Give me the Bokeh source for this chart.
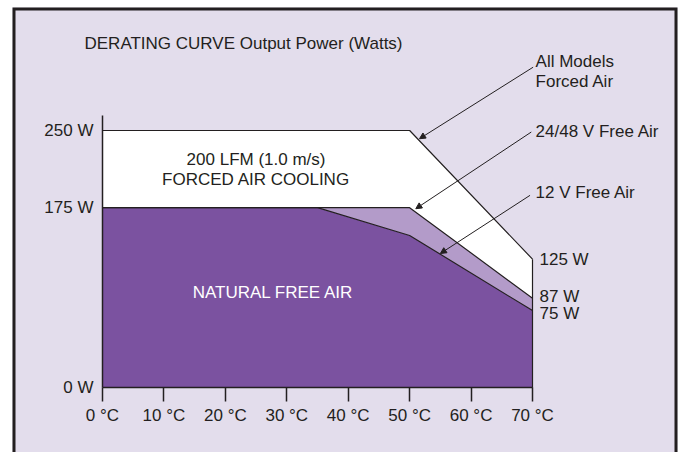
from bokeh.plotting import figure
from bokeh.models import Range1d, LinearAxis, FixedTicker, Arrow, NormalHead, BoxAnnotation
from bokeh.core.properties import value
from bokeh.embed import file_html
from bokeh.resources import INLINE

# ---- data ----
temp_ticks = [0, 10, 20, 30, 40, 50, 60, 70]
temp_tick_labels = ["0 °C", "10 °C", "20 °C", "30 °C", "40 °C", "50 °C", "60 °C", "70 °C"]
power_ticks = [0, 175, 250]
power_tick_labels = ["0 W", "175 W", "250 W"]

forced_t = [0, 50, 70]
forced_p = [250, 250, 125]
free2448_t = [0, 50, 70]
free2448_p = [175, 175, 87]
free12_t = [0, 35, 50, 70]
free12_p = [175, 175, 148, 75]

end_values = [forced_p[-1], free2448_p[-1], free12_p[-1]]
end_labels = [f"{v} W" for v in end_values]

callout_texts = ["All Models\nForced Air", "24/48 V Free Air", "12 V Free Air"]
callout_text_t = [70.5, 70.5, 70.5]
callout_text_p = [307, 249, 190]
arrow_tail_t = [70.1, 69.8, 69.6]
arrow_tail_p = [311.5, 248.5, 187]
arrow_tip_t = [51.6, 51.0, 55.0]
arrow_tip_p = [242, 174, 130.5]

title_text = "DERATING CURVE Output Power (Watts)"
region_texts = ["200 LFM (1.0 m/s)\nFORCED AIR COOLING", "NATURAL FREE AIR"]
region_t = [25, 27.8]
region_p = [212.5, 92.6]

# ---- style ----
INK = "#231F20"
BG = "#E3DDEC"
DARK = "#7B52A0"
LIGHT = "#B39BC9"
FONT_NAME = "Liberation Sans"
FONT = value(FONT_NAME)
FS = "17px"

X0, X1 = -14.651, 93.604
Y0, Y1 = -62.86, 369.51

p = figure(width=680, height=452, output_backend="svg", toolbar_location=None,
           x_axis_type=None, y_axis_type=None,
           x_range=Range1d(X0, X1), y_range=Range1d(Y0, Y1),
           min_border_left=12, min_border_right=3, min_border_top=7, min_border_bottom=0,
           background_fill_color=BG, border_fill_color="white",
           outline_line_color=None)

# panel border (left, top, right; bottom edge lies below the page)
p.add_layout(BoxAnnotation(left=X0, right=X1, top=Y1, bottom=Y0 - 30,
                           fill_color=None, fill_alpha=0, line_color=INK, line_width=6,
                           line_alpha=1))

# regions
p.patch(x=[0] + free12_t + [free12_t[-1]], y=[0] + free12_p + [0],
        fill_color=DARK, line_color=None)
p.patch(x=free2448_t + free12_t[::-1], y=free2448_p + free12_p[::-1],
        fill_color=LIGHT, line_color=None)
p.patch(x=forced_t + free2448_t[::-1], y=forced_p + free2448_p[::-1],
        fill_color="white", line_color=None)

# curves
for xs, ys in [(forced_t, forced_p), (free2448_t, free2448_p), (free12_t, free12_p)]:
    p.line(x=xs, y=ys, line_color=INK, line_width=1.2)
p.segment(x0=[forced_t[-1]], y0=[0], x1=[forced_t[-1]], y1=[forced_p[-1]],
          line_color=INK, line_width=1.2)

# axes
xaxis = LinearAxis(fixed_location=0, ticker=FixedTicker(ticks=temp_ticks),
                   major_label_overrides={t: l for t, l in zip(temp_ticks, temp_tick_labels)},
                   bounds=(0, 70), axis_line_color=INK, axis_line_width=1.5,
                   major_tick_line_color=INK, major_tick_line_width=1.5,
                   major_tick_in=0, major_tick_out=14, minor_tick_line_color=None,
                   major_label_standoff=4, major_label_text_font=FONT_NAME,
                   major_label_text_font_size=FS, major_label_text_color=INK)
p.add_layout(xaxis, "below")
yaxis = LinearAxis(fixed_location=0, ticker=FixedTicker(ticks=power_ticks),
                   major_label_overrides={t: l for t, l in zip(power_ticks, power_tick_labels)},
                   bounds=(0, 265), axis_line_color=INK, axis_line_width=1.5,
                   major_tick_line_color=None, major_tick_in=0, major_tick_out=0,
                   minor_tick_line_color=None,
                   major_label_standoff=9, major_label_text_font=FONT_NAME,
                   major_label_text_font_size=FS, major_label_text_color=INK)
p.add_layout(yaxis, "left")

# end labels
p.text(x=[forced_t[-1]] * 3, y=end_values, text=end_labels, x_offset=7,
       y_offset=[0, -2, 3], text_baseline="middle", text_align="left",
       text_font=FONT, text_font_size=FS, text_color=INK)

# title
p.text(x=[-2.93], y=[334.5], text=[title_text], text_baseline="middle", text_align="left",
       text_font=FONT, text_font_size=FS, text_color=INK)

# region texts
p.text(x=region_t, y=region_p, text=region_texts, text_baseline="middle", text_align="center",
       text_font=FONT, text_font_size=FS, text_color=[INK, "white"], text_line_height=1.05)

# callouts
p.text(x=callout_text_t, y=callout_text_p, text=callout_texts, text_baseline="middle",
       text_align="left", text_font=FONT, text_font_size=FS, text_color=INK,
       text_line_height=1.05)
for xs, ys, xe, ye in zip(arrow_tail_t, arrow_tail_p, arrow_tip_t, arrow_tip_p):
    p.add_layout(Arrow(x_start=xs, y_start=ys, x_end=xe, y_end=ye, line_color=INK, line_width=1,
                       end=NormalHead(size=6, fill_color=INK, line_color=INK, line_width=1)))

open("out.html", "w").write(file_html(p, INLINE))
